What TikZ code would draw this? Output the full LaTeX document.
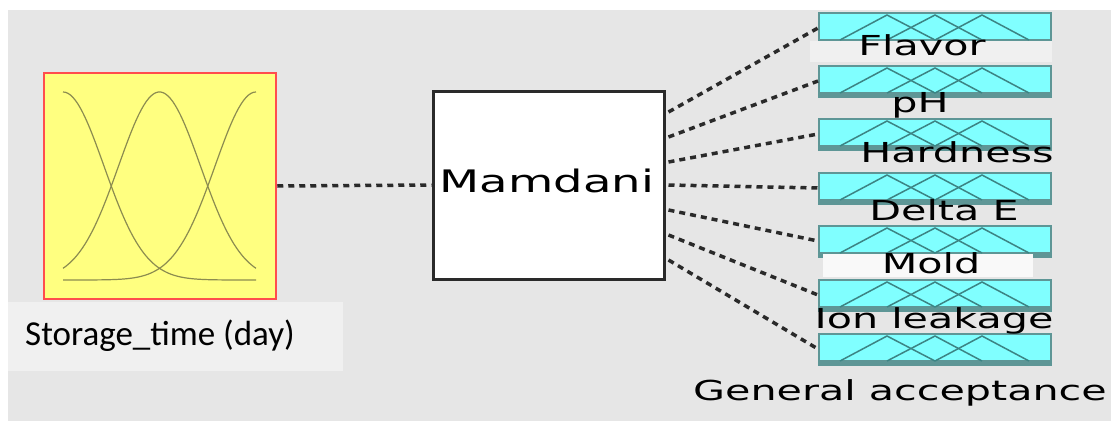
\documentclass[tikz,border=0pt]{standalone}
\usepackage{fontspec}
\usetikzlibrary{calc}
\newfontfamily\labfont[FakeStretch=1.5]{DejaVu Sans}
\newfontfamily\calfont{Carlito}
\definecolor{bggray}{HTML}{E6E6E6}
\definecolor{labbg}{HTML}{F0F0F0}
\definecolor{inyellow}{HTML}{FFFF80}
\definecolor{inred}{HTML}{FF4D4D}
\definecolor{curvecol}{HTML}{8C8C50}
\definecolor{outcyan}{HTML}{80FFFF}
\definecolor{outborder}{HTML}{5E9696}
\definecolor{mfcol}{HTML}{3C8484}
\definecolor{darkline}{HTML}{2A2A2A}
\tikzset{
  inbox/.style={draw=inred, line width=2.5pt, fill=inyellow, minimum width=232pt, minimum height=226pt, inner sep=0pt},
  mambox/.style={draw=darkline, line width=3pt, fill=white, minimum width=231pt, minimum height=188pt, inner sep=0pt},
  outbox/.style={draw=outborder, line width=2pt, fill=outcyan, minimum width=232pt, minimum height=31pt, inner sep=0pt},
  conn/.style={draw=darkline, line width=3.5pt, dash pattern=on 6pt off 5pt},
  mfline/.style={draw=mfcol, line width=1.5pt},
  gcurve/.style={draw=curvecol, line width=1.2pt},
  outlab/.style={font=\labfont\fontsize{27.5}{30}\selectfont, anchor=base, inner sep=0pt, text=black},
}
\begin{document}
\begin{tikzpicture}[x=1pt,y=-1pt]
\useasboundingbox (0,0) rectangle (1111,423);
\fill[white] (0,0) rectangle (1111,423);
\fill[bggray] (8,10) rectangle (1111,421);
% input
\fill[labbg] (8,302) rectangle (343,371);
\node[inbox] (in) at (160,186) {};
\draw[gcurve] plot[domain=63:256, samples=80] (\x, {280-188*exp(-((\x-63)/193)^2/0.09)});
\draw[gcurve] plot[domain=63:256, samples=80] (\x, {280-188*exp(-((\x-63)/193-0.5)^2/0.09)});
\draw[gcurve] plot[domain=63:256, samples=80] (\x, {280-188*exp(-((\x-63)/193-1)^2/0.09)});
\node[font=\calfont\fontsize{35}{38}\selectfont, anchor=base west, inner sep=0pt] (inlab) at (25,345) {Storage\_time (day)};
% mamdani
\node[mambox] (mam) at (548.5,185) {};
\node[font=\labfont\fontsize{31}{34}\selectfont, anchor=base, inner sep=0pt] (mamlab) at (547,192) {Mamdani};
\draw[conn] (in.east) -- (mam.west);
% outputs
\foreach \n/\t in {1/12, 2/65, 3/118, 4/172, 5/225, 6/279, 7/333} {
  \node[outbox] (o\n) at (935,{\t+16}) {};
  \fill[outborder] (819,{\t+27}) rectangle (1051,{\t+31});
  \pgfmathsetmacro\ta{\t+3}
  \pgfmathsetmacro\tb{\t+28}
  \draw[mfline] (840,\tb) -- (887,\ta) -- (935,\tb);
  \draw[mfline] (887,\tb) -- (935,\ta) -- (982,\tb);
  \draw[mfline] (935,\tb) -- (982,\ta) -- (1029,\tb);
}
\foreach \n/\dy in {1/-73, 2/-48, 3/-23, 4/0, 5/25, 6/50, 7/75} {
  \draw[conn] ($(mam.east)+(3,\dy)$) -- (o\n.west);
}
\fill[labbg] (810,41) rectangle (1052,62);
\fill[white!60!labbg] (823,254) rectangle (1033,277);
\node[outlab] (l1) at (922,55) {Flavor};
\node[outlab] (l2) at (920,112) {pH};
\node[outlab] (l3) at (957,162) {Hardness};
\node[outlab] (l4) at (944,220) {Delta E};
\node[outlab] (l5) at (931,273) {Mold};
\node[outlab] (l6) at (934,328) {Ion leakage};
\node[outlab] (l7) at (900,400) {General acceptance};
\end{tikzpicture}
\end{document}
